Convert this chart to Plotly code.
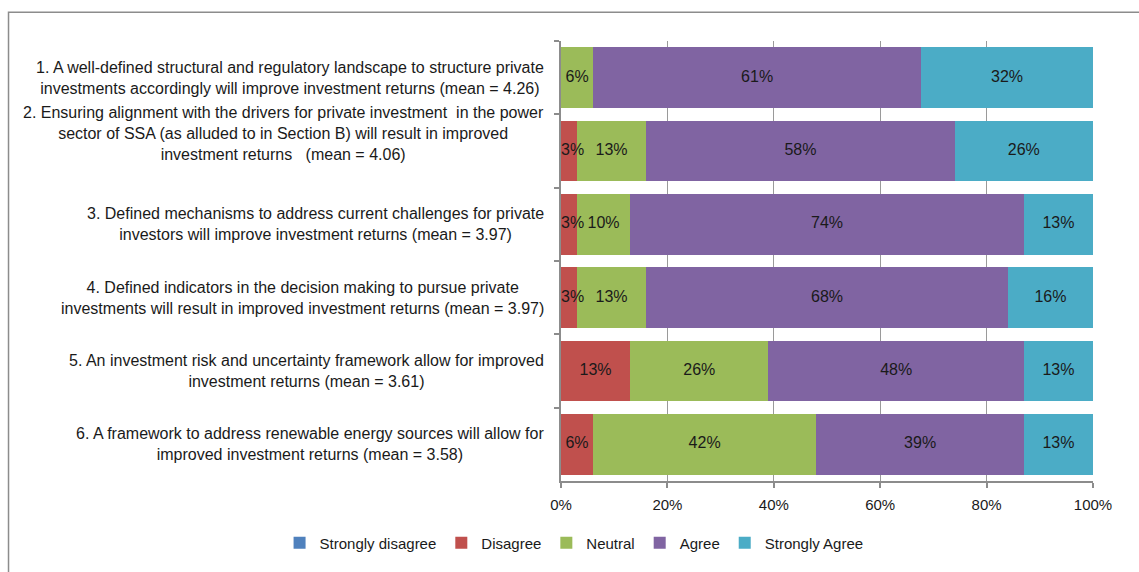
import plotly.graph_objects as go

# Survey statements (top to bottom)
statements = [
    "1. A well-defined structural and regulatory landscape to structure private<br>investments accordingly will improve investment returns (mean = 4.26)",
    "2. Ensuring alignment with the drivers for private investment &nbsp;in the power<br>sector of SSA (as alluded to in Section B) will result in improved<br>investment returns &nbsp; (mean = 4.06)",
    "3. Defined mechanisms to address current challenges for private<br>investors will improve investment returns (mean = 3.97)",
    "4. Defined indicators in the decision making to pursue private<br>investments will result in improved investment returns (mean = 3.97)",
    "5. An investment risk and uncertainty framework allow for improved<br>investment returns (mean = 3.61)",
    "6. A framework to address renewable energy sources will allow for<br>improved investment returns (mean = 3.58)",
]
categories = ["Q1", "Q2", "Q3", "Q4", "Q5", "Q6"]

# Response shares in percent, one list per answer option
strongly_disagree = [0, 0, 0, 0, 0, 0]
disagree = [0, 3, 3, 3, 13, 6]
neutral = [6, 13, 10, 13, 26, 42]
agree = [61, 58, 74, 68, 48, 39]
strongly_agree = [32, 26, 13, 16, 13, 13]

series_names = ["Strongly disagree", "Disagree", "Neutral", "Agree", "Strongly Agree"]
series_values = [strongly_disagree, disagree, neutral, agree, strongly_agree]
series_colors = ["#4F81BD", "#C0504D", "#9BBB59", "#8064A2", "#4BACC6"]

x_ticks = [0, 20, 40, 60, 80, 100]
x_tick_labels = ["0%", "20%", "40%", "60%", "80%", "100%"]

FONT = "Liberation Sans, Arial, sans-serif"
TXT = "#1a1a1a"

fig = go.Figure()
for name, vals, color in zip(series_names, series_values, series_colors):
    fig.add_trace(go.Bar(
        y=categories,
        x=vals,
        name=name,
        orientation="h",
        marker=dict(color=color, line=dict(width=0)),
        hoverinfo="skip",
    ))

# Data labels drawn on top of all segments after normalising every row
# to 100 %; narrow segments get their label anchored at the segment start
row_totals = [sum(col) for col in zip(*series_values)]
lab_x, lab_y, lab_t, lab_pos = [], [], [], []
for i, cat in enumerate(categories):
    cum = 0.0
    for vals in series_values:
        v = vals[i]
        if v > 0:
            narrow = v < 5
            start = cum / row_totals[i] * 100
            mid = (cum + v / 2) / row_totals[i] * 100
            lab_x.append(start if narrow else mid)
            lab_y.append(cat)
            lab_t.append(f"{v}%")
            lab_pos.append("middle right" if narrow else "middle center")
        cum += v
fig.add_trace(go.Scatter(
    x=lab_x, y=lab_y, text=lab_t, mode="text",
    textposition=lab_pos,
    textfont=dict(family=FONT, size=16, color=TXT),
    showlegend=False, hoverinfo="skip", cliponaxis=False,
))

# Statement labels, centred line by line to the left of the bars
label_shift = [0, 18, 0, 0, 0, 0]
for cat, txt, dy in zip(categories, statements, label_shift):
    fig.add_annotation(
        x=-0.028, xref="paper", y=cat, yref="y",
        text=txt, showarrow=False, xanchor="right", yanchor="middle",
        align="center", yshift=dy,
        font=dict(family=FONT, size=16, color=TXT),
    )

# Outer chart frame (top and left edges)
fig.add_shape(type="path", xref="paper", yref="paper",
              path="M -1.0385 -0.25 L -1.0385 1.0655 L 1.2 1.0655",
              line=dict(color="#8c8c8c", width=1.5))

fig.update_layout(
    barmode="stack",
    barnorm="percent",
    bargap=0.17,
    width=1139, height=572,
    margin=dict(l=560.5, r=46.3, t=41, b=88.5),
    plot_bgcolor="white", paper_bgcolor="white",
    font=dict(family=FONT, size=15, color=TXT),
    legend=dict(
        orientation="h",
        x=-0.529, y=-0.141, xanchor="left", yanchor="middle",
        font=dict(family=FONT, size=15, color=TXT),
        traceorder="normal", itemwidth=30,
    ),
    showlegend=True,
)
fig.update_xaxes(
    range=[0, 100], tickvals=x_ticks, ticktext=x_tick_labels,
    showgrid=True, gridcolor="#9a9a9a", gridwidth=1,
    showline=True, linecolor="#8c8c8c", linewidth=1.5,
    ticks="outside", ticklen=5, tickcolor="#8c8c8c", tickwidth=1.5,
    ticklabelstandoff=4,
    zeroline=False, fixedrange=True,
    tickfont=dict(family=FONT, size=15, color=TXT),
)
fig.update_yaxes(
    autorange="reversed", showticklabels=False,
    showline=True, linecolor="#8c8c8c", linewidth=1.5,
    ticks="outside", ticklen=5, tickcolor="#8c8c8c", tickwidth=1.5,
    tickson="boundaries", showgrid=False, fixedrange=True,
)

fig.write_html("out.html")
